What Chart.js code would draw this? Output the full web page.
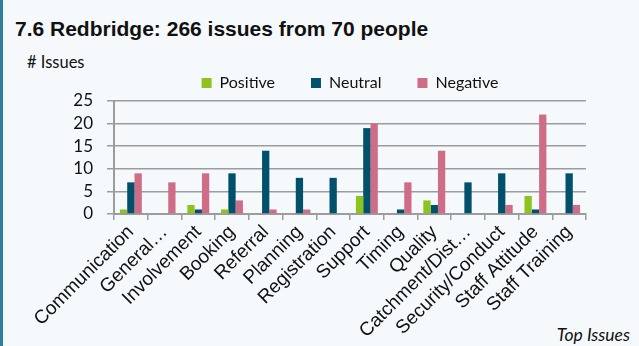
<!DOCTYPE html>
<html>
<head>
<meta charset="utf-8">
<script src="https://cdn.jsdelivr.net/npm/chart.js@4.4.1/dist/chart.umd.min.js"></script>
<style>
    body { margin: 0; background: #f5f9fc; }
    #wrap { position: relative; width: 639px; height: 346px; overflow: hidden; background: #f5f9fc; }
    #edge { position: absolute; left: 0; top: 0; width: 3px; height: 346px; background: #2f7d98; }
    #title { position: absolute; left: 15px; top: 17px; font: bold 21px "Liberation Sans", Arial, sans-serif; color: #111; white-space: nowrap; }
    #ytitle { position: absolute; left: 27px; top: 52px; font: 16.5px Lato, sans-serif; color: #111; }
    #xtitle { position: absolute; right: 9px; bottom: 1px; font: italic 17.5px Lato, sans-serif; color: #111; }
    #myChart { position: absolute; left: 0; top: 0; }
</style>
</head>
<body>
<div id="wrap">
    <div id="edge"></div>
    <div id="title">7.6 Redbridge: 266 issues from 70 people</div>
    <div id="ytitle"># Issues</div>
    <div id="xtitle">Top Issues</div>
    <canvas id="myChart" width="639" height="346"></canvas>
</div>
<script>
    // kategorie i liczby zgłoszeń
    var categories = ['Communication', 'General…', 'Involvement', 'Booking', 'Referral', 'Planning',
        'Registration', 'Support', 'Timing', 'Quality', 'Catchment/Dist…', 'Security/Conduct',
        'Staff Attitude', 'Staff Training'];
    var positive = [1, 0, 2, 1, 0, 0, 0, 4, 0, 3, 0, 0, 4, 0];
    var neutral = [7, 0, 1, 9, 14, 8, 8, 19, 1, 2, 7, 9, 1, 9];
    var negative = [9, 7, 9, 3, 1, 1, 0, 20, 7, 14, 0, 2, 22, 2];
    var yMax = 25;
    var yStep = 5;

    var gridColor = '#9c9c9c';

    const ctx = document.getElementById('myChart');
    var chart = new Chart(ctx, {
        type: 'bar',
        data: {
            labels: categories,
            datasets: [
                { label: 'Positive', data: positive, backgroundColor: '#8dc21f', borderWidth: 0 },
                { label: 'Neutral', data: neutral, backgroundColor: '#03506d', borderWidth: 0 },
                { label: 'Negative', data: negative, backgroundColor: '#d06d86', borderWidth: 0 }
            ]
        },
        options: {
            responsive: false,
            animation: false,
            layout: { padding: { left: 50, right: 53, top: 39, bottom: 0 } },
            datasets: { bar: { categoryPercentage: 0.65, barPercentage: 1.0 } },
            plugins: {
                tooltip: { enabled: false },
                legend: {
                    position: 'top',
                    fullSize: false, // legenda tylko nad obszarem wykresu
                    labels: {
                        boxWidth: 10,
                        boxHeight: 10,
                        padding: 36,
                        color: '#111',
                        font: { family: 'Lato', size: 16 }
                    }
                }
            },
            scales: {
                x: {
                    grid: { drawOnChartArea: false, tickLength: 6, color: gridColor, lineWidth: 1.5 },
                    border: { color: gridColor, width: 2 },
                    ticks: {
                        autoSkip: false,
                        minRotation: 45,
                        maxRotation: 45,
                        padding: 1,
                        color: '#111',
                        font: { family: 'Liberation Sans', size: 19 }
                    },
                    afterFit: function (scale) { scale.height = 132; }
                },
                y: {
                    min: 0,
                    max: yMax,
                    ticks: { stepSize: yStep, autoSkip: false, padding: 14, color: '#111', font: { family: 'Lato', size: 17 } },
                    grid: { color: gridColor, lineWidth: 1.5, tickLength: 7 },
                    border: { color: gridColor, width: 2 },
                    afterFit: function (scale) { scale.width = 64; }
                }
            }
        }
    });
</script>
</body>
</html>
